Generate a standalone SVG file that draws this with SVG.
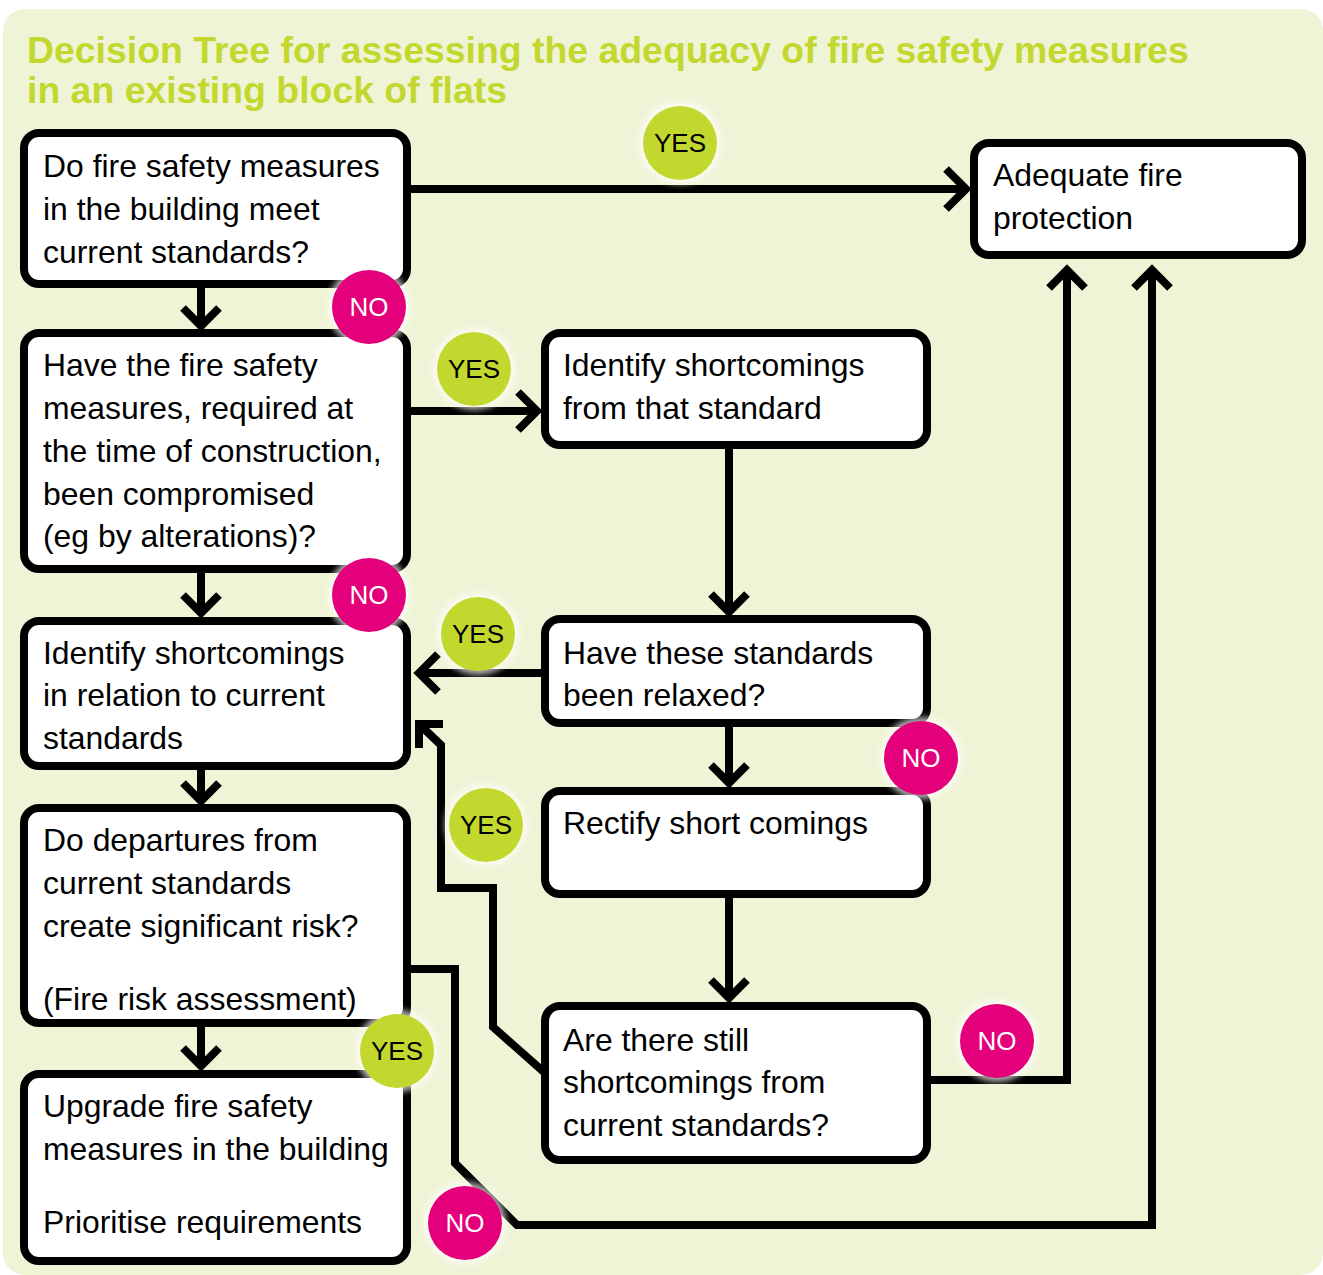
<svg xmlns="http://www.w3.org/2000/svg" width="1323" height="1275" viewBox="0 0 1323 1275">
<defs>
<style>
.bg{fill:#eff4d6}
.title{font-family:"Liberation Sans",Arial,sans-serif;font-weight:bold;font-size:37.4px;fill:#c3d82f}
.box{fill:#fff;stroke:#000;stroke-width:8}
.t{font-family:"Liberation Sans",Arial,sans-serif;font-size:31.9px;fill:#000}
.ln{fill:none;stroke:#000;stroke-width:8;stroke-linejoin:miter;stroke-miterlimit:10}
.yes{fill:#c3d82f}
.no{fill:#e3007a}
.bt{font-family:"Liberation Sans",Arial,sans-serif;font-size:26px;text-anchor:middle}
.halo{fill:#fff;opacity:0.7}
</style>
<filter id="glow" x="-30%" y="-30%" width="160%" height="160%">
<feGaussianBlur stdDeviation="3"/>
</filter>
</defs>
<rect class="bg" x="3" y="9" width="1320" height="1266" rx="22"/>
<text class="title" x="27" y="63">Decision Tree for assessing the adequacy of fire safety measures</text>
<text class="title" x="27" y="103">in an existing block of flats</text>

<g id="connectors">
<path class="ln" d="M407,189 H966"/>
<path class="ln" d="M946,169 L966,189 L946,209"/>
<path class="ln" d="M201,284 V326"/>
<path class="ln" d="M183,308 L201,326 L219,308"/>
<path class="ln" d="M407,411 H537"/>
<path class="ln" d="M518,392 L537,411 L518,430"/>
<path class="ln" d="M201,569 V613"/>
<path class="ln" d="M183,595 L201,613 L219,595"/>
<path class="ln" d="M729,445 V612"/>
<path class="ln" d="M711,594 L729,612 L747,594"/>
<path class="ln" d="M545,673 H419"/>
<path class="ln" d="M438,654 L419,673 L438,692"/>
<path class="ln" d="M729,723 V783"/>
<path class="ln" d="M711,765 L729,783 L747,765"/>
<path class="ln" d="M201,766 V801"/>
<path class="ln" d="M183,783 L201,801 L219,783"/>
<path class="ln" d="M729,894 V998"/>
<path class="ln" d="M711,980 L729,998 L747,980"/>
<path class="ln" d="M201,1023 V1066"/>
<path class="ln" d="M183,1048 L201,1066 L219,1048"/>
<path class="ln" d="M407,969 H455 V1163 L517,1225 H1152 V270"/>
<path class="ln" d="M1134,288 L1152,270 L1170,288"/>
<path class="ln" d="M927,1080 H1067 V270"/>
<path class="ln" d="M1049,288 L1067,270 L1085,288"/>
<path class="ln" d="M545,1073 L493,1027 V888 H441 V745 L420,725"/>
<path class="ln" d="M419,748 V724 H443"/>
</g>

<g id="n1"><rect class="box" x="24" y="133" width="383" height="151" rx="15"/>
<text class="t" x="43" y="177">Do fire safety measures</text>
<text class="t" x="43" y="220">in the building meet</text>
<text class="t" x="43" y="263">current standards?</text></g>

<g id="adequate"><rect class="box" x="974" y="143" width="328" height="112" rx="15"/>
<text class="t" x="993" y="186">Adequate fire</text>
<text class="t" x="993" y="229">protection</text></g>

<g id="n2"><rect class="box" x="24" y="333" width="383" height="236" rx="15"/>
<text class="t" x="43" y="376">Have the fire safety</text>
<text class="t" x="43" y="419">measures, required at</text>
<text class="t" x="43" y="462">the time of construction,</text>
<text class="t" x="43" y="505">been compromised</text>
<text class="t" x="43" y="547">(eg by alterations)?</text></g>

<g id="identify1"><rect class="box" x="545" y="333" width="382" height="112" rx="15"/>
<text class="t" x="563" y="376">Identify shortcomings</text>
<text class="t" x="563" y="419">from that standard</text></g>

<g id="n3"><rect class="box" x="24" y="621" width="383" height="145" rx="15"/>
<text class="t" x="43" y="664">Identify shortcomings</text>
<text class="t" x="43" y="706">in relation to current</text>
<text class="t" x="43" y="749">standards</text></g>

<g id="relaxed"><rect class="box" x="545" y="619" width="382" height="104" rx="15"/>
<text class="t" x="563" y="664">Have these standards</text>
<text class="t" x="563" y="706">been relaxed?</text></g>

<g id="rectify"><rect class="box" x="545" y="791" width="382" height="103" rx="15"/>
<text class="t" x="563" y="834">Rectify short comings</text></g>

<g id="n4"><rect class="box" x="24" y="808" width="383" height="215" rx="15"/>
<text class="t" x="43" y="851">Do departures from</text>
<text class="t" x="43" y="894">current standards</text>
<text class="t" x="43" y="937">create significant risk?</text>
<text class="t" x="43" y="1010">(Fire risk assessment)</text></g>

<g id="still"><rect class="box" x="545" y="1006" width="382" height="154" rx="15"/>
<text class="t" x="563" y="1051">Are there still</text>
<text class="t" x="563" y="1093">shortcomings from</text>
<text class="t" x="563" y="1136">current standards?</text></g>

<g id="n5"><rect class="box" x="24" y="1074" width="383" height="187" rx="15"/>
<text class="t" x="43" y="1117">Upgrade fire safety</text>
<text class="t" x="43" y="1160">measures in the building</text>
<text class="t" x="43" y="1233">Prioritise requirements</text></g>

<g id="badges">
<g><circle class="halo" cx="680" cy="143" r="41" filter="url(#glow)"/><circle class="yes" cx="680" cy="143" r="37"/><text class="bt" x="680" y="152">YES</text></g>
<g><circle class="halo" cx="369" cy="307" r="41" filter="url(#glow)"/><circle class="no" cx="369" cy="307" r="37"/><text class="bt" x="369" y="316" fill="#fff">NO</text></g>
<g><circle class="halo" cx="474" cy="369" r="41" filter="url(#glow)"/><circle class="yes" cx="474" cy="369" r="37"/><text class="bt" x="474" y="378">YES</text></g>
<g><circle class="halo" cx="369" cy="595" r="41" filter="url(#glow)"/><circle class="no" cx="369" cy="595" r="37"/><text class="bt" x="369" y="604" fill="#fff">NO</text></g>
<g><circle class="halo" cx="478" cy="634" r="41" filter="url(#glow)"/><circle class="yes" cx="478" cy="634" r="37"/><text class="bt" x="478" y="643">YES</text></g>
<g><circle class="halo" cx="921" cy="758" r="41" filter="url(#glow)"/><circle class="no" cx="921" cy="758" r="37"/><text class="bt" x="921" y="767" fill="#fff">NO</text></g>
<g><circle class="halo" cx="486" cy="825" r="41" filter="url(#glow)"/><circle class="yes" cx="486" cy="825" r="37"/><text class="bt" x="486" y="834">YES</text></g>
<g><circle class="halo" cx="397" cy="1051" r="41" filter="url(#glow)"/><circle class="yes" cx="397" cy="1051" r="37"/><text class="bt" x="397" y="1060">YES</text></g>
<g><circle class="halo" cx="997" cy="1041" r="41" filter="url(#glow)"/><circle class="no" cx="997" cy="1041" r="37"/><text class="bt" x="997" y="1050" fill="#fff">NO</text></g>
<g><circle class="halo" cx="465" cy="1223" r="41" filter="url(#glow)"/><circle class="no" cx="465" cy="1223" r="37"/><text class="bt" x="465" y="1232" fill="#fff">NO</text></g>
</g>
</svg>
